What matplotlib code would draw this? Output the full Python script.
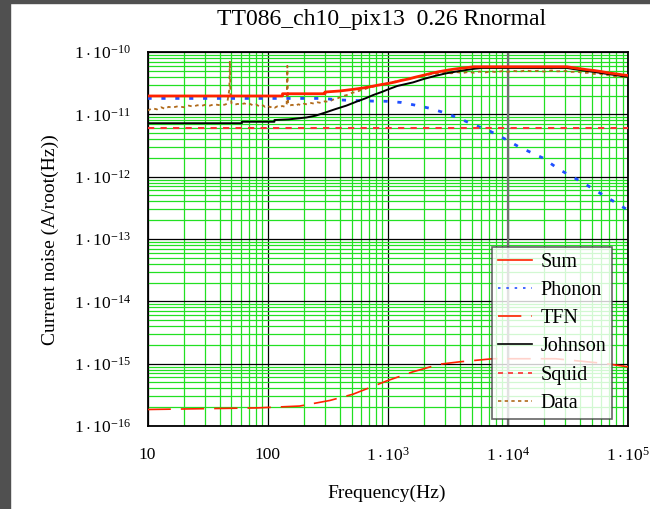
import matplotlib
matplotlib.use('Agg')
import matplotlib.pyplot as plt
from matplotlib.ticker import FixedLocator, NullFormatter, LogLocator
import numpy as np

plt.rcParams['font.family'] = ['Liberation Serif', 'DejaVu Serif']
plt.rcParams['mathtext.fontset'] = 'custom'
plt.rcParams['mathtext.rm'] = 'Liberation Serif'
plt.rcParams['mathtext.it'] = 'Liberation Serif'

# Sum (A/rtHz, x1e-11)
sum_f = [10, 133, 133, 300, 300, 400, 500, 600, 700, 800, 900, 1000, 1150, 1300, 1500, 1700,
         2000, 2300, 2700, 3200, 3800, 4500, 5200, 31000, 37000, 44000, 52000, 60000, 70000,
         80000, 90000, 100000]
sum_v = [1.97, 1.97, 2.14, 2.14, 2.28, 2.37, 2.50, 2.62, 2.75, 2.90, 3.02, 3.12, 3.30, 3.50,
         3.70, 3.95, 4.25, 4.55, 4.85, 5.15, 5.40, 5.60, 5.80, 5.80, 5.50, 5.25, 5.05, 4.85,
         4.60, 4.45, 4.30, 4.20]

# Phonon (x1e-11)
phonon_f = [10, 100, 287, 400, 750, 970, 1300, 1670, 2200, 3070, 4100, 5200, 6800, 9300,
            12400, 19500, 27000, 40000, 58000, 100000]
phonon_v = [1.80, 1.80, 1.80, 1.70, 1.63, 1.62, 1.55, 1.41, 1.26, 1.04, 0.83, 0.68, 0.56, 0.41,
            0.30, 0.20, 0.129, 0.085, 0.055, 0.029]

# TFN (x1e-16)
tfn_f = [10, 81, 185, 330, 515, 970, 1620, 2700, 3960, 7500, 25000, 66000, 100000]
tfn_v = [1.84, 1.95, 2.09, 2.57, 3.24, 5.25, 7.4, 9.8, 10.7, 12.0, 12.0, 10.0, 8.9]

# Johnson (x1e-11)
johnson_f = [10, 61, 61, 114, 114, 150, 210, 250, 307, 370, 453, 550, 650, 757, 900, 1000,
             1200, 1400, 1620, 2000, 2500, 3070, 3700, 4500, 5300, 6100, 31000, 37000, 44000,
             52000, 60000, 70000, 80000, 90000, 100000]
johnson_v = [0.72, 0.72, 0.76, 0.76, 0.81, 0.83, 0.89, 0.95, 1.08, 1.22, 1.38, 1.60, 1.80,
             2.04, 2.30, 2.50, 2.85, 3.05, 3.25, 3.70, 4.15, 4.55, 4.85, 5.15, 5.40, 5.55,
             5.55, 5.25, 5.00, 4.80, 4.60, 4.40, 4.25, 4.10, 4.00]

# Squid (x1e-12)
squid_f = [10, 100000]
squid_v = [6.0, 6.0]

# Data (x1e-11)
data_f = [10, 11, 12, 13, 14, 15, 16, 18, 20, 22, 24, 26, 28, 30, 33, 36, 40, 44, 46, 48, 48.5,
          49, 50, 53, 56, 60, 64, 68, 72, 76, 80, 85, 90, 95, 100, 105, 110, 115, 120, 126, 132,
          140, 144, 146, 148, 152, 160, 170, 180, 190, 200, 215, 230, 245, 260, 280, 300, 320,
          350, 380, 420, 460, 500, 550, 600, 650, 700, 770, 850, 930, 1000, 1100, 1200, 1350,
          1500, 1700, 1900, 2100, 2400, 2700, 3000, 3400, 3800, 4200, 4700, 5200, 5800, 6500,
          7200, 8000, 9000, 10000, 11000, 12500, 14000, 16000, 18000, 20000, 23000, 26000,
          30000, 34000, 38000, 42000, 47000, 52000, 58000, 64000, 70000, 78000, 86000, 95000,
          100000]
data_v = [1.15, 1.25, 1.20, 1.30, 1.22, 1.32, 1.28, 1.35, 1.30, 1.38, 1.33, 1.40, 1.36, 1.42,
          1.38, 1.45, 1.40, 1.43, 1.48, 2.5, 7.2, 2.2, 1.50, 1.42, 1.47, 1.44, 1.50, 1.42, 1.46,
          1.38, 1.44, 1.35, 1.42, 1.32, 1.38, 1.30, 1.36, 1.28, 1.34, 1.30, 1.36, 1.32, 1.45,
          6.0, 1.5, 1.38, 1.42, 1.36, 1.45, 1.40, 1.48, 1.44, 1.52, 1.48, 1.56, 1.52, 1.62, 1.58,
          1.72, 1.80, 1.95, 2.05, 2.20, 2.30, 2.45, 2.55, 2.70, 2.80, 2.95, 3.05, 3.15, 3.30,
          3.40, 3.60, 3.75, 3.95, 4.10, 4.30, 4.45, 4.50, 4.65, 4.55, 4.75, 4.60, 4.80, 4.65,
          4.85, 4.70, 4.90, 4.75, 4.95, 4.80, 5.00, 4.85, 5.05, 4.90, 5.00, 4.85, 5.05, 4.90,
          4.95, 4.80, 4.85, 4.60, 4.65, 4.45, 4.50, 4.25, 4.30, 4.05, 4.10, 3.85, 3.95]

fig = plt.figure(figsize=(6.5, 5.09), dpi=100)
fig.patch.set_facecolor('white')
# dark frame strips of the screenshot
fig.patches.append(plt.Rectangle((0, 0), 10 / 650, 1, transform=fig.transFigure,
                                 color='#505050', zorder=0))
fig.patches.append(plt.Rectangle((0, 1 - 3 / 509), 1, 3 / 509, transform=fig.transFigure,
                                 color='#505050', zorder=0))

ax = fig.add_axes([147.5 / 650, 1 - 426 / 509, 480.5 / 650, 374 / 509])

ax.plot(sum_f, np.array(sum_v) * 1e-11, color='#ff2200', lw=2.0, label='Sum', zorder=6)
ax.plot(phonon_f, np.array(phonon_v) * 1e-11, color='#2050ff', lw=2.0,
        linestyle=(0, (1.5, 3.5)), label='Phonon', zorder=5)
ax.plot(tfn_f, np.array(tfn_v) * 1e-16, color='#ff2200', lw=1.2,
        linestyle=(0, (14, 6)), label='TFN', zorder=5)
ax.plot(johnson_f, np.array(johnson_v) * 1e-11, color='black', lw=1.4, label='Johnson',
        zorder=5)
ax.plot(squid_f, np.array(squid_v) * 1e-12, color='#ff3030', lw=1.5,
        linestyle=(0, (3, 3)), label='Squid', zorder=5)
ax.plot(data_f, np.array(data_v) * 1e-11, color='#b06a1a', lw=1.3,
        linestyle=(0, (2, 2)), label='Data', zorder=4)

ax.set_xscale('log')
ax.set_yscale('log')
ax.set_xlim(10, 1e5)
ax.set_ylim(1e-16, 1e-10)

ax.xaxis.set_major_locator(FixedLocator([10, 100, 1e3, 1e4, 1e5]))
ax.yaxis.set_major_locator(FixedLocator([1e-16, 1e-15, 1e-14, 1e-13, 1e-12, 1e-11, 1e-10]))
ax.xaxis.set_minor_locator(LogLocator(base=10, subs=np.arange(2, 10), numticks=20))
ax.yaxis.set_minor_locator(LogLocator(base=10, subs=np.arange(2, 10), numticks=20))
ax.xaxis.set_minor_formatter(NullFormatter())
ax.yaxis.set_minor_formatter(NullFormatter())
ax.set_xticklabels(['10', '100', r'$1\cdot10^{3}$', r'$1\cdot10^{4}$', r'$1\cdot10^{5}$'])
ax.set_yticklabels([r'$1\cdot10^{-%d}$' % k for k in [16, 15, 14, 13, 12, 11, 10]])

ax.grid(which='minor', color='#22e022', lw=0.9)
ax.grid(which='major', color='black', lw=0.9)
ax.set_axisbelow(True)
ax.axvline(1e4, color='#707070', lw=1.6, zorder=1)
ax.tick_params(which='both', length=0, labelsize=12.5)
ax.tick_params(axis='x', pad=15)
ax.tick_params(axis='y', pad=12)
for s in ax.spines.values():
    s.set_linewidth(1.3)

leg = ax.legend(loc='upper left', bbox_to_anchor=(0.717, 0.479), borderaxespad=0,
                fontsize=14.5, frameon=True, fancybox=False, edgecolor='#404040',
                handlelength=1.7, handletextpad=0.4, labelspacing=0.45, borderpad=0.3)
leg.get_frame().set_linewidth(1.2)
leg.set_zorder(10)
for line in leg.get_lines():
    line.set_linewidth(1.2)

fig.text(382 / 650, 1 - 19 / 509, 'TT086_ch10_pix13  0.26 Rnormal', ha='center', va='center',
         fontsize=17)
fig.text(387 / 650, 1 - 493 / 509, 'Frequency(Hz)', ha='center', va='center', fontsize=14)
fig.text(50 / 650, 1 - 240 / 509, 'Current noise (A/root(Hz))', ha='center', va='center',
         rotation=90, fontsize=14)

plt.savefig('out.png', dpi=100)
